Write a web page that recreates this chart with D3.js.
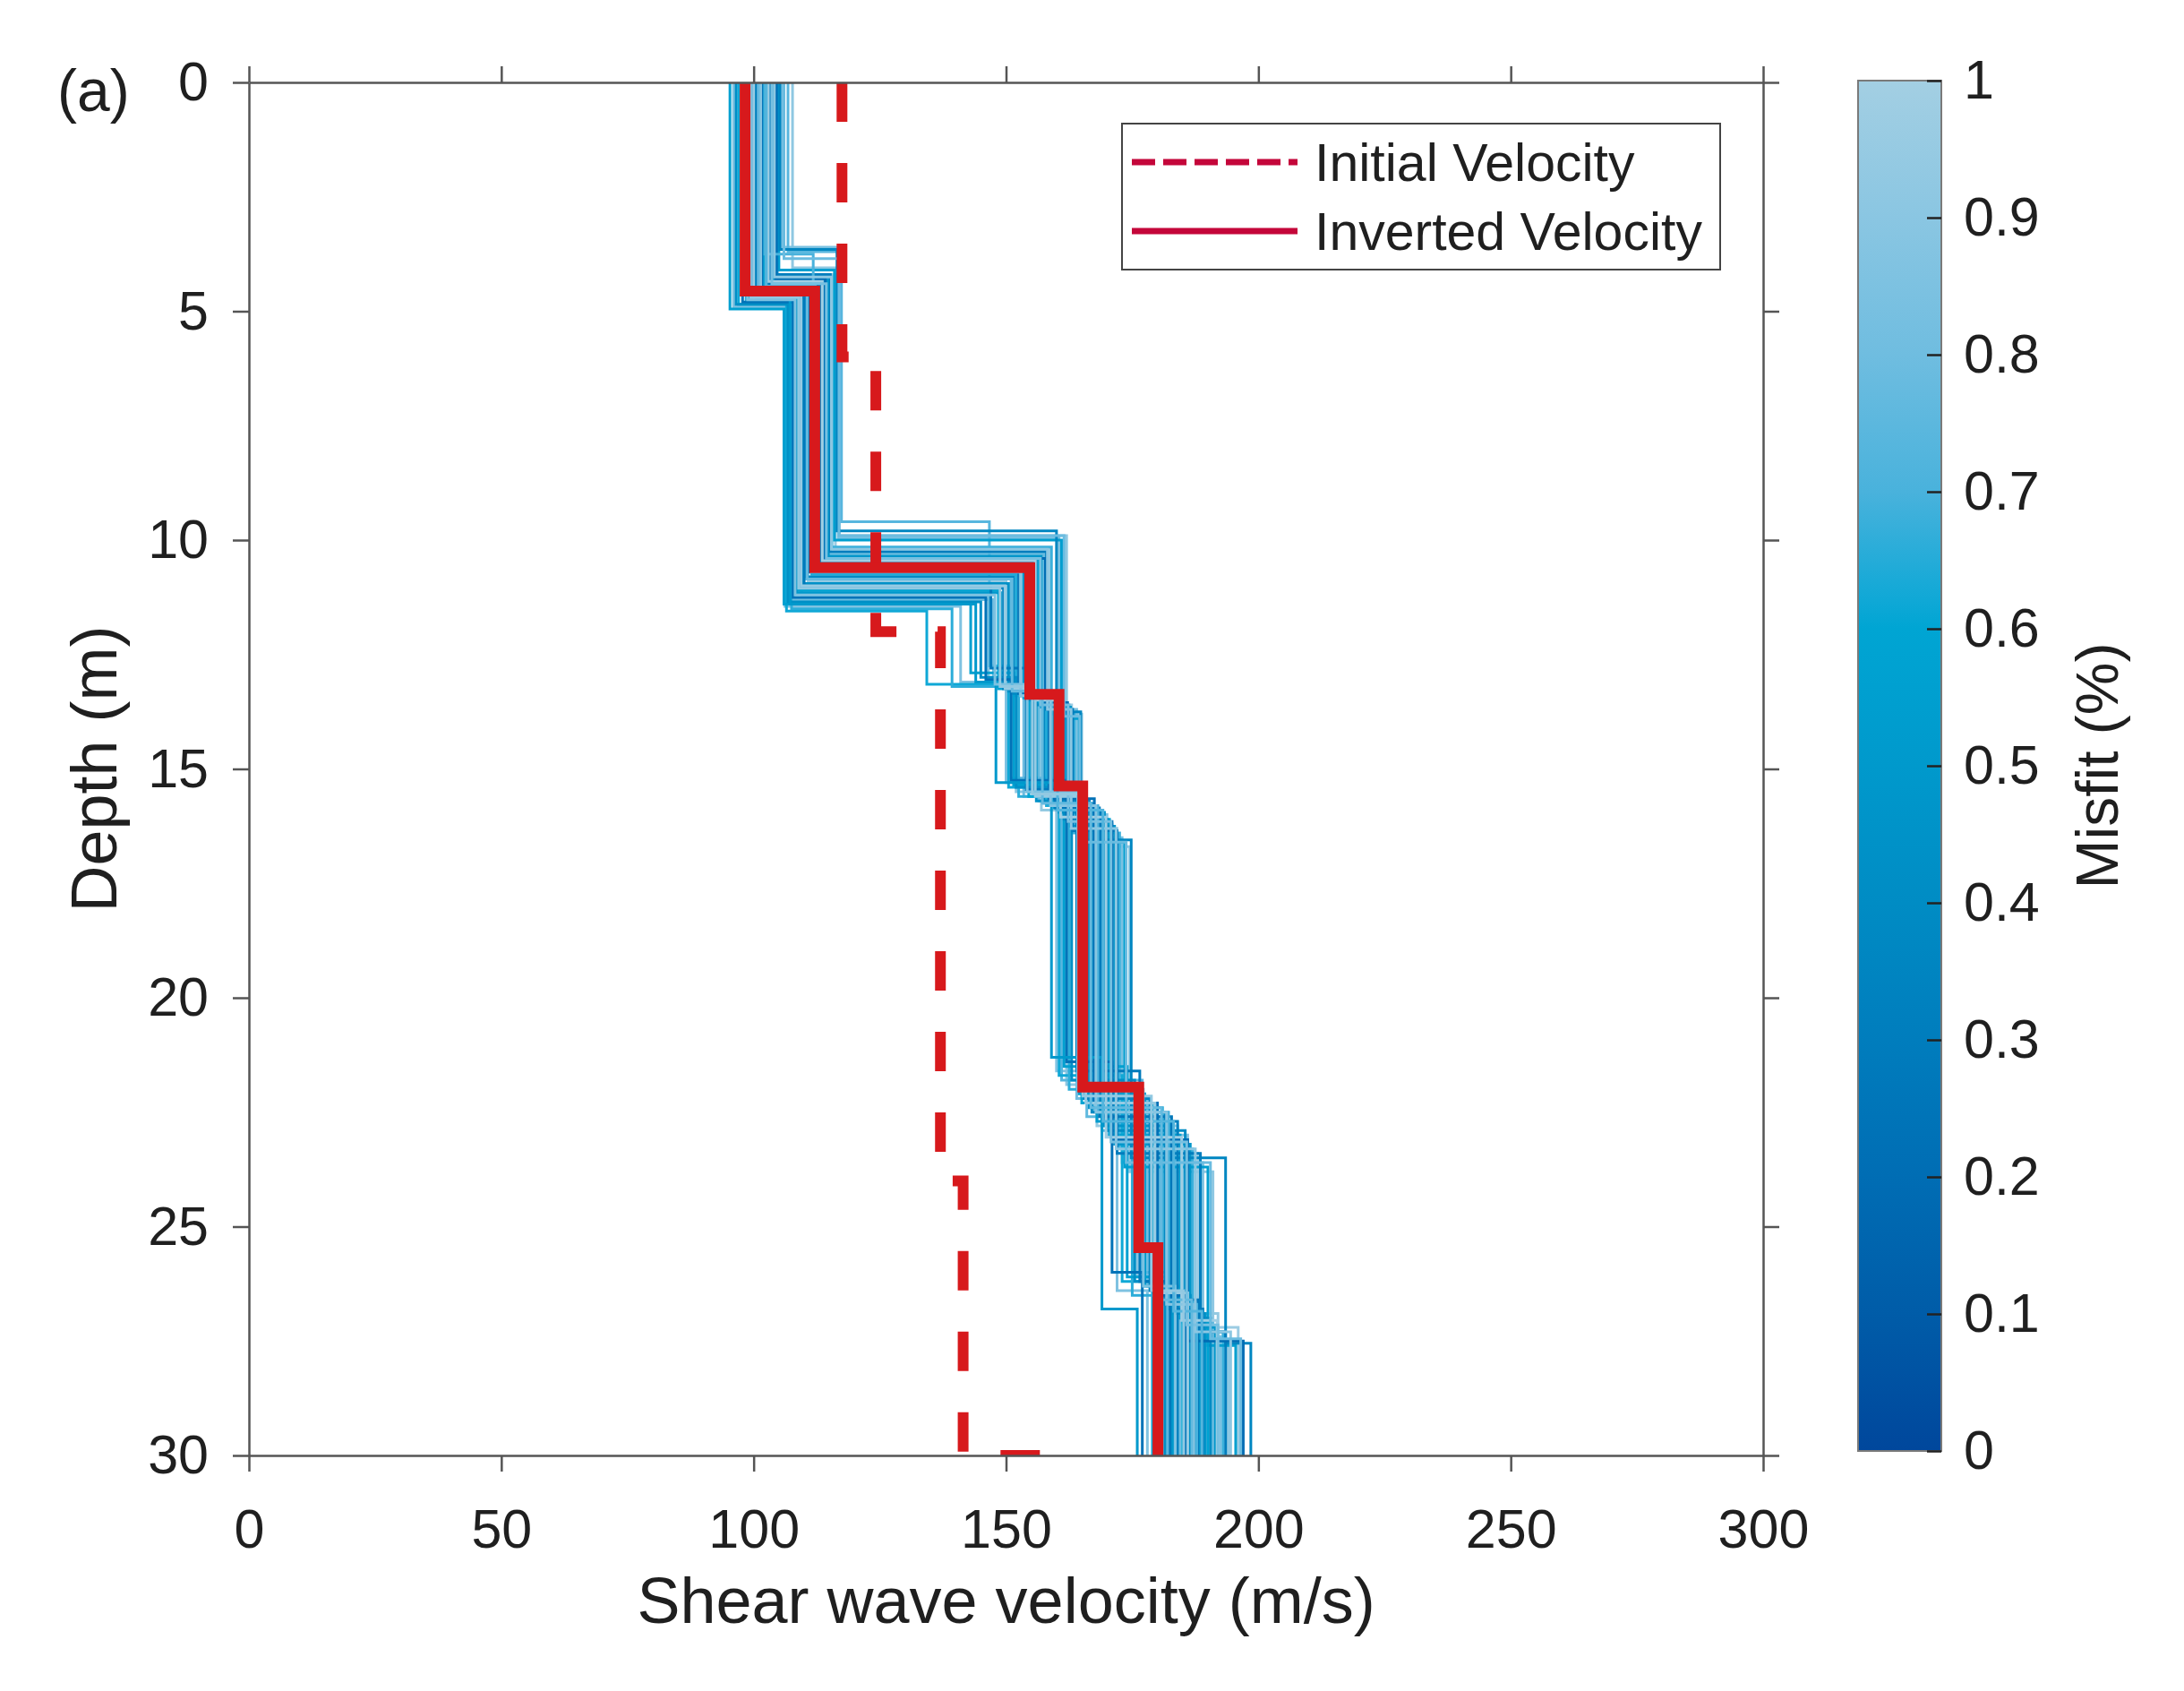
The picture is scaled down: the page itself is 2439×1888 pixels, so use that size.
<!DOCTYPE html>
<html>
<head>
<meta charset="utf-8">
<script src="https://cdn.jsdelivr.net/npm/d3@7"></script>
<style>
  body { margin: 0; background: #fff; }
  text { font-family: "Liberation Sans", Arial, sans-serif; fill: #1f1f1f; }
</style>
</head>
<body>
<div id="chart"></div>
<script>
// Ensemble of accepted profiles: layer velocities (m/s), interface depths (m), misfit (%)
const misfits = [0.97, 0.94, 0.92, 0.90, 0.88, 0.86, 0.84, 0.82, 0.80, 0.78,
                 0.76, 0.74, 0.72, 0.62, 0.66, 0.68, 0.64, 0.60, 0.58, 0.56,
                 0.54, 0.52, 0.50, 0.48, 0.46, 0.44, 0.42, 0.40, 0.38, 0.36,
                 0.34, 0.32, 0.30, 0.28, 0.26, 0.24, 0.22, 0.20, 0.50, 0.70,
                 0.99, 0.95, 0.91, 0.89, 0.85, 0.83, 0.79, 0.77, 0.73, 0.93];

const ensembleVs = [
  [104.8, 116.2, 158.5, 163.0, 172.0, 188.0, 196.0],
  [101.5, 110.8, 150.0, 157.0, 168.0, 184.0, 192.0],
  [107.7, 117.0, 162.0, 165.0, 174.5, 191.0, 194.0],
  [100.8, 109.5, 146.5, 152.0, 162.0, 176.0, 183.0],
  [103.2, 113.5, 155.0, 161.0, 170.0, 186.0, 190.5],
  [96.0, 106.2, 141.0, 150.0, 160.0, 172.0, 178.0],
  [105.6, 116.8, 160.5, 164.0, 173.0, 189.0, 192.5],
  [102.4, 112.0, 153.0, 159.0, 167.5, 182.0, 188.0],
  [99.6, 108.0, 147.5, 153.5, 164.0, 178.0, 184.5],
  [104.2, 115.0, 157.5, 162.5, 171.0, 185.0, 191.0],
  [101.0, 110.2, 151.0, 156.5, 166.0, 180.5, 186.0],
  [106.8, 117.4, 146.7, 151.0, 161.0, 177.0, 182.0],
  [103.0, 113.0, 154.0, 160.0, 169.0, 183.5, 189.0],
  [97.0, 106.5, 134.3, 150.5, 160.5, 173.0, 179.0],
  [98.5, 107.5, 139.3, 152.5, 162.5, 175.0, 181.0],
  [104.5, 115.5, 159.0, 163.5, 172.5, 187.0, 193.0],
  [102.0, 111.5, 152.0, 158.0, 167.0, 181.0, 187.0],
  [100.4, 109.0, 148.5, 154.5, 165.0, 179.0, 185.0],
  [103.8, 114.5, 156.5, 162.0, 170.5, 184.5, 190.0],
  [95.3, 106.0, 143.0, 151.5, 161.5, 174.0, 180.0],
  [105.0, 116.0, 161.0, 164.5, 173.5, 190.0, 195.5],
  [101.8, 111.2, 153.5, 159.5, 168.0, 182.5, 188.5],
  [99.2, 108.5, 149.0, 155.0, 164.5, 177.5, 183.0],
  [104.0, 114.8, 157.0, 162.8, 171.5, 186.5, 191.5],
  [102.6, 112.5, 154.5, 160.5, 169.5, 183.0, 189.5],
  [100.2, 109.8, 150.5, 156.0, 166.5, 180.0, 186.5],
  [96.5, 106.8, 145.0, 152.0, 163.0, 175.5, 181.5],
  [103.5, 114.0, 156.0, 161.5, 170.0, 185.5, 190.5],
  [101.2, 110.5, 151.5, 157.5, 167.0, 181.5, 187.5],
  [105.2, 116.5, 160.0, 164.8, 174.8, 193.5, 198.5],
  [99.8, 109.2, 149.5, 155.5, 165.5, 178.5, 184.0],
  [102.8, 113.2, 155.5, 161.0, 169.0, 184.0, 189.0],
  [104.6, 115.2, 158.0, 163.2, 172.0, 188.5, 193.5],
  [100.6, 110.0, 147.0, 154.0, 164.0, 176.5, 182.5],
  [103.3, 112.8, 153.8, 159.8, 168.5, 182.8, 188.0],
  [97.8, 107.8, 146.0, 151.0, 162.0, 171.0, 177.0],
  [101.6, 111.0, 152.5, 158.5, 167.5, 180.0, 185.5],
  [104.4, 114.2, 157.8, 162.2, 171.0, 186.0, 197.0],
  [98.0, 107.2, 144.0, 148.0, 159.0, 169.0, 176.0],
  [102.2, 111.8, 152.8, 159.0, 168.2, 182.2, 187.8],
  [102.9, 113.6, 155.8, 160.8, 169.8, 184.8, 191.8],
  [100.0, 109.4, 149.8, 155.8, 165.8, 179.5, 186.0],
  [104.1, 115.4, 158.2, 162.9, 171.8, 187.5, 194.5],
  [101.4, 111.4, 152.9, 158.8, 167.8, 181.8, 187.2],
  [98.8, 108.2, 147.8, 154.2, 164.2, 177.2, 183.5],
  [103.6, 114.4, 156.8, 162.3, 170.8, 185.8, 192.0],
  [106.0, 116.9, 161.5, 164.6, 173.8, 190.5, 196.5],
  [100.9, 110.6, 151.2, 157.2, 166.8, 180.8, 186.8],
  [102.5, 112.2, 154.2, 160.2, 169.2, 183.2, 188.8],
  [99.4, 108.9, 148.8, 155.2, 165.2, 178.8, 185.2]
];

const ensembleDepths = [
  [4.20, 10.20, 13.60, 16.30, 23.40, 27.20],
  [4.60, 10.90, 13.30, 15.90, 22.80, 26.90],
  [4.05, 9.90, 13.80, 16.70, 23.80, 27.50],
  [4.75, 11.20, 13.00, 15.50, 21.90, 26.10],
  [4.40, 10.50, 13.50, 16.00, 23.00, 27.00],
  [4.90, 11.45, 13.10, 15.30, 21.60, 26.40],
  [3.60, 9.95, 13.70, 16.50, 23.60, 27.40],
  [4.50, 10.70, 13.40, 15.80, 22.50, 26.70],
  [4.80, 11.30, 13.20, 15.60, 22.20, 26.30],
  [4.30, 10.30, 13.60, 16.20, 23.10, 27.10],
  [4.65, 10.85, 13.30, 15.70, 22.60, 26.60],
  [3.70, 9.60, 12.75, 15.20, 21.80, 26.00],
  [4.45, 10.60, 13.50, 15.90, 22.90, 26.80],
  [4.85, 11.55, 13.15, 15.40, 21.70, 26.20],
  [4.80, 11.50, 13.20, 15.60, 22.00, 26.50],
  [4.25, 10.15, 13.80, 16.40, 23.30, 27.30],
  [4.55, 10.75, 13.40, 15.80, 22.40, 26.60],
  [4.70, 11.10, 13.25, 15.60, 22.30, 26.40],
  [4.35, 10.40, 13.55, 16.10, 23.00, 27.00],
  [4.95, 11.40, 12.90, 15.35, 21.50, 26.10],
  [4.10, 10.00, 13.90, 16.60, 23.70, 27.60],
  [4.50, 10.65, 13.45, 15.85, 22.70, 26.80],
  [4.75, 11.15, 13.20, 15.50, 22.10, 26.30],
  [4.30, 10.35, 13.65, 16.25, 23.20, 27.20],
  [4.45, 10.55, 13.50, 15.95, 22.80, 26.90],
  [4.60, 10.95, 13.30, 15.70, 22.40, 26.50],
  [4.85, 11.35, 13.00, 15.40, 21.80, 26.20],
  [4.40, 10.45, 13.60, 16.10, 22.90, 27.00],
  [4.55, 10.80, 13.35, 15.75, 22.50, 26.70],
  [3.65, 9.80, 13.75, 16.55, 23.50, 27.55],
  [4.65, 11.05, 13.25, 15.55, 22.20, 26.40],
  [4.45, 10.50, 13.45, 15.90, 22.70, 26.80],
  [4.20, 10.25, 13.70, 16.35, 23.40, 27.30],
  [4.70, 11.00, 12.80, 15.45, 21.60, 26.20],
  [4.40, 10.60, 13.40, 15.85, 22.60, 26.60],
  [4.80, 11.25, 13.05, 15.25, 21.40, 26.00],
  [4.50, 10.70, 13.35, 15.65, 22.30, 26.50],
  [4.30, 10.40, 13.55, 16.15, 23.10, 27.50],
  [4.60, 11.40, 13.10, 15.30, 21.30, 26.80],
  [3.75, 10.60, 13.40, 15.80, 22.50, 26.70],
  [4.35, 10.45, 13.50, 16.05, 23.05, 27.05],
  [4.65, 11.00, 13.25, 15.60, 22.30, 26.45],
  [4.25, 10.20, 13.70, 16.30, 23.30, 27.30],
  [4.55, 10.70, 13.40, 15.80, 22.50, 26.70],
  [4.75, 11.20, 13.15, 15.50, 22.00, 26.30],
  [4.40, 10.40, 13.60, 16.15, 23.15, 27.15],
  [3.85, 9.90, 13.85, 16.60, 23.60, 27.45],
  [4.60, 10.85, 13.30, 15.75, 22.40, 26.60],
  [4.45, 10.60, 13.45, 15.90, 22.70, 26.85],
  [4.70, 11.05, 13.20, 15.55, 22.15, 26.40]
];

// Best (inverted) and starting (initial) models
const invertedVs = [98.3, 112.1, 154.7, 160.5, 165.2, 176.3, 180.1];
const invertedDepths = [4.56, 10.6, 13.37, 15.37, 21.95, 25.46];
const initialVs = [117.5, 124.2, 137.0, 141.5, 157.0];
const initialDepths = [6.0, 12.0, 24.0, 30.0];

// Axis ticks and colormap
const xTicks = [0, 50, 100, 150, 200, 250, 300];
const yTicks = [0, 5, 10, 15, 20, 25, 30];
const cbTicks = [0, 0.1, 0.2, 0.3, 0.4, 0.5, 0.6, 0.7, 0.8, 0.9, 1];
const cmapStops = [0, 0.1, 0.2, 0.3, 0.4, 0.5, 0.6, 0.62, 0.7, 0.8, 0.9, 1];
const cmapColors = ["#00479c", "#005ca8", "#006db4", "#007dbd", "#008cc4", "#0099cc",
                    "#00a5d3", "#0fa8d6", "#49b2dc", "#6fbde0", "#8ac6e2", "#a3cfe3"];

const width = 2439, height = 1888;
const plot = { left: 278, right: 1969, top: 92, bottom: 1625 };
const maxDepth = 30;

const svg = d3.select("#chart")
    .append("svg")
    .attr("width", width)
    .attr("height", height);

const xScale = d3.scaleLinear().domain([0, 300]).range([plot.left, plot.right]);
const yScale = d3.scaleLinear().domain([0, maxDepth]).range([plot.top, plot.bottom]);
const color = d3.scaleLinear().domain(cmapStops).range(cmapColors);

// step profile: each layer is a vertical segment, joined by horizontal steps
function profilePoints(vs, depths) {
    const pts = [];
    let top = 0;
    vs.forEach((v, i) => {
        const bottom = i < depths.length ? depths[i] : maxDepth;
        pts.push([v, top], [v, bottom]);
        top = bottom;
    });
    return pts;
}

const line = d3.line()
    .x(d => xScale(d[0]))
    .y(d => yScale(d[1]));

svg.append("clipPath").attr("id", "plotClip")
    .append("rect")
    .attr("x", plot.left).attr("y", plot.top)
    .attr("width", plot.right - plot.left)
    .attr("height", plot.bottom - plot.top);

const g = svg.append("g").attr("clip-path", "url(#plotClip)");

// profiles drawn in the order they were accepted
g.selectAll(".profile")
    .data(d3.range(misfits.length))
    .enter().append("path")
    .attr("class", "profile")
    .attr("fill", "none")
    .attr("stroke", i => color(misfits[i]))
    .attr("stroke-width", 3)
    .attr("d", i => line(profilePoints(ensembleVs[i], ensembleDepths[i])));

g.append("path")
    .attr("fill", "none")
    .attr("stroke", "#d7191c")
    .attr("stroke-width", 12)
    .attr("stroke-dasharray", "44,46")
    .attr("d", line(profilePoints(initialVs, initialDepths)));

g.append("path")
    .attr("fill", "none")
    .attr("stroke", "#d7191c")
    .attr("stroke-width", 12)
    .attr("d", line(profilePoints(invertedVs, invertedDepths)));

// Axes (ticks out on all four sides, labels bottom and left)
const axisColor = "#555";
function styleAxis(sel) {
    sel.select(".domain").attr("stroke", axisColor).attr("stroke-width", 2.5);
    sel.selectAll(".tick line").attr("stroke", axisColor).attr("stroke-width", 2.5);
    sel.selectAll(".tick text").attr("font-size", 61).attr("fill", "#1f1f1f");
}

svg.append("g")
    .attr("transform", `translate(0,${plot.bottom})`)
    .call(d3.axisBottom(xScale).tickValues(xTicks).tickSizeInner(18).tickSizeOuter(0).tickPadding(42))
    .call(styleAxis);

svg.append("g")
    .attr("transform", `translate(0,${plot.top})`)
    .call(d3.axisTop(xScale).tickValues(xTicks).tickSizeInner(18).tickSizeOuter(0).tickFormat(""))
    .call(styleAxis);

svg.append("g")
    .attr("transform", `translate(${plot.left},0)`)
    .call(d3.axisLeft(yScale).tickValues(yTicks).tickSizeInner(18).tickSizeOuter(0).tickPadding(27))
    .call(styleAxis);

svg.append("g")
    .attr("transform", `translate(${plot.right},0)`)
    .call(d3.axisRight(yScale).tickValues(yTicks).tickSizeInner(18).tickSizeOuter(0).tickFormat(""))
    .call(styleAxis);

svg.selectAll(".tick text").attr("font-family", "'Liberation Sans', Arial, sans-serif");

// Axis labels
svg.append("text")
    .attr("x", (plot.left + plot.right) / 2)
    .attr("y", 1812)
    .attr("text-anchor", "middle")
    .attr("font-size", 72)
    .text("Shear wave velocity (m/s)");

svg.append("text")
    .attr("transform", `translate(130,${(plot.top + plot.bottom) / 2}) rotate(-90)`)
    .attr("text-anchor", "middle")
    .attr("font-size", 72)
    .text("Depth (m)");

svg.append("text")
    .attr("x", 64)
    .attr("y", 124)
    .attr("font-size", 66)
    .text("(a)");

// Legend
const legend = svg.append("g");
legend.append("rect")
    .attr("x", 1253).attr("y", 138)
    .attr("width", 668).attr("height", 163)
    .attr("fill", "#fff")
    .attr("stroke", "#444")
    .attr("stroke-width", 2);

const legendItems = [
    { label: "Initial Velocity", dash: "26,9", y: 181 },
    { label: "Inverted Velocity", dash: null, y: 258 }
];
legendItems.forEach(item => {
    legend.append("line")
        .attr("x1", 1264).attr("x2", 1449)
        .attr("y1", item.y).attr("y2", item.y)
        .attr("stroke", "#c4063a")
        .attr("stroke-width", 7)
        .attr("stroke-dasharray", item.dash);
    legend.append("text")
        .attr("x", 1468)
        .attr("y", item.y + 21)
        .attr("font-size", 59)
        .text(item.label);
});

// Colorbar
const cb = { x: 2075, y: 90, w: 93, h: 1530 };
const grad = svg.append("defs").append("linearGradient")
    .attr("id", "cmap")
    .attr("x1", 0).attr("y1", 1).attr("x2", 0).attr("y2", 0);
grad.selectAll("stop")
    .data(cmapStops)
    .enter().append("stop")
    .attr("offset", d => d)
    .attr("stop-color", d => color(d));

svg.append("rect")
    .attr("x", cb.x).attr("y", cb.y)
    .attr("width", cb.w).attr("height", cb.h)
    .attr("fill", "url(#cmap)")
    .attr("stroke", "#7a7a7a")
    .attr("stroke-width", 2);

const cbScale = d3.scaleLinear().domain([0, 1]).range([cb.y + cb.h, cb.y]);
svg.append("g")
    .attr("transform", `translate(${cb.x + cb.w},0)`)
    .call(d3.axisRight(cbScale).tickValues(cbTicks).tickSizeInner(-16).tickSizeOuter(0).tickPadding(25)
        .tickFormat(d => d3.format("~g")(d)))
    .call(sel => {
        sel.select(".domain").remove();
        sel.selectAll(".tick line").attr("stroke", "#222").attr("stroke-width", 2.5);
        sel.selectAll(".tick text").attr("font-size", 61).attr("fill", "#1f1f1f")
            .attr("font-family", "'Liberation Sans', Arial, sans-serif");
    });

svg.append("text")
    .attr("transform", `translate(2365,${cb.y + cb.h / 2}) rotate(-90)`)
    .attr("text-anchor", "middle")
    .attr("font-size", 66)
    .text("Misfit (%)");
</script>
</body>
</html>
